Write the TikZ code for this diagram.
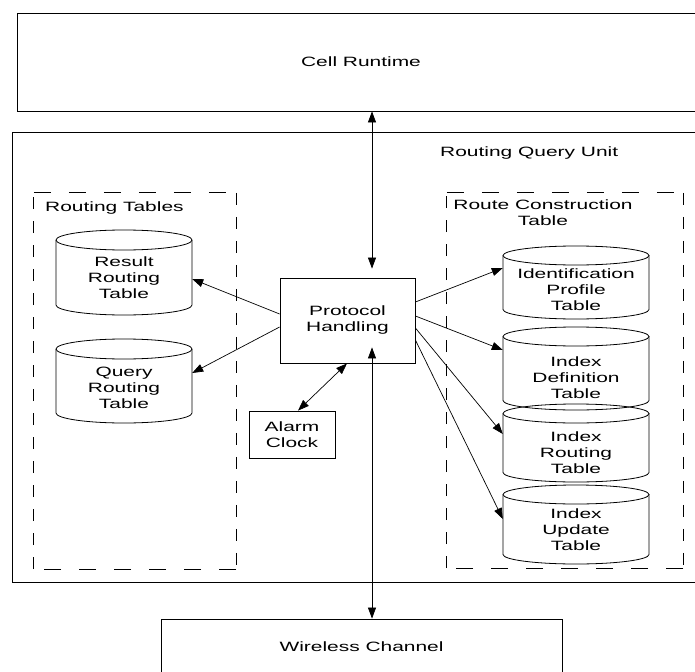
\documentclass[tikz,border=0pt]{standalone}
\usepackage{fontspec}
\setmainfont{Liberation Sans}[FakeStretch=1.55]
\usetikzlibrary{arrows.meta,calc}

\tikzset{
  box/.style={draw, line width=0.8pt, inner sep=0pt},
  frame/.style={inner sep=0pt},
  hdash/.style={line width=0.8pt, dash pattern=on 17pt off 18pt},
  vdash/.style={line width=0.8pt, dash pattern=on 12pt off 12pt},
  cylline/.style={line width=0.8pt},
  cyltext/.style={inner sep=0pt, align=center},
  caption/.style={inner sep=0pt, align=center},
  tip/.style={line width=0.7pt, -{Triangle[length=11pt,width=8pt]}},
  dtip/.style={line width=0.7pt, {Triangle[length=11pt,width=8pt]}-{Triangle[length=11pt,width=8pt]}},
}

% database cylinder: name, left x, right x, top y, bottom y, text y, text
\newcommand\dbcyl[7]{%
  \pgfmathsetmacro\cylrx{(#3-#2)/2}%
  \pgfmathsetmacro\cylcx{(#3+#2)/2}%
  \draw[cylline] (#2,#4+\cylry) -- (#2,#5-\cylry)
    arc[start angle=180, end angle=360, x radius=\cylrx pt, y radius=\cylry pt]
    -- (#3,#4+\cylry);
  \draw[cylline] (\cylcx,#4+\cylry) ellipse[x radius=\cylrx pt, y radius=\cylry pt];
  \node[cyltext, minimum width={(#3-#2)*1pt}] (#1) at (\cylcx,#6) {#7};
}

% dashed frame drawn side by side so each direction keeps its own dash length
\newcommand\dashframe[1]{%
  \draw[hdash] (#1.north west) -- (#1.north east);
  \draw[hdash] (#1.south east) -- (#1.south west);
  \draw[vdash] (#1.north east) -- (#1.south east);
  \draw[vdash] (#1.south west) -- (#1.north west);
}

\begin{document}
\begin{tikzpicture}[x=1pt, y=-1pt, font=\fontsize{13.5}{16}\selectfont]
\useasboundingbox (0,0) rectangle (695,671);
\clip (0,0) rectangle (695,671);

% outer components
\node[box, minimum width=688pt, minimum height=98pt] (cr) at (361,62) {Cell Runtime};
\node[box, minimum width=698pt, minimum height=450pt] (rqu) at (361,357) {};
\node[caption, anchor=west] (rqulbl) at (440,153) {Routing Query Unit};
\node[box, minimum width=401pt, minimum height=56pt] (wc) at (361.5,647) {Wireless Channel};

% table groups
\node[frame, minimum width=202pt, minimum height=376pt] (rt) at (135,381) {};
\dashframe{rt}
\node[caption, anchor=west] (rtlbl) at (45,208) {Routing Tables};

\node[frame, minimum width=236pt, minimum height=375pt] (rct) at (565,380.5) {};
\dashframe{rct}
\node[caption] (rctlbl) at (543,212.5) {Route Construction\\Table};

% routing tables
\def\cylry{10}
\dbcyl{res}{56}{192}{230}{315}{278}{Result\\Routing\\Table}
\dbcyl{qry}{56}{192}{339}{423}{388}{Query\\Routing\\Table}

% route construction tables
\def\cylry{9.5}
\dbcyl{idp}{503}{649}{246}{319}{290}{Identification\\Profile\\Table}
\dbcyl{idf}{503}{649}{327}{410}{378}{Index\\Definition\\Table}
\dbcyl{irt}{503}{649}{404}{482}{453}{Index\\Routing\\Table}
\dbcyl{iup}{503}{649}{485}{564}{530}{Index\\Update\\Table}

% processing blocks
\node[box, align=center, minimum width=135pt, minimum height=85pt] (ph) at (347.5,320.5) {Protocol\\Handling};
\node[box, align=center, minimum width=86pt, minimum height=47pt] (ac) at (292,434.5) {Alarm\\Clock};

% connectors
\coordinate (bus) at (372,0);
\draw[dtip] (bus |- cr.south) -- ([yshift=9pt]bus |- ph.north);
\draw[dtip] (bus |- wc.north) -- ([yshift=16pt]bus |- ph.south);

\draw[tip] (ph.west |- 0,314) -- (res.east |- 0,279);
\draw[tip] (ph.west |- 0,327) -- (qry.east |- 0,373);
\draw[dtip] (ac.north -| 298,0) -- (ph.south -| 347,0);

\draw[tip] (ph.east |- 0,302) -- (idp.west |- 0,268);
\draw[tip] (ph.east |- 0,316) -- (idf.west |- 0,350);
\draw[tip] (ph.east |- 0,328) -- (irt.west |- 0,434);
\draw[tip] (ph.east |- 0,340) -- (iup.west |- 0,519);
\end{tikzpicture}
\end{document}
